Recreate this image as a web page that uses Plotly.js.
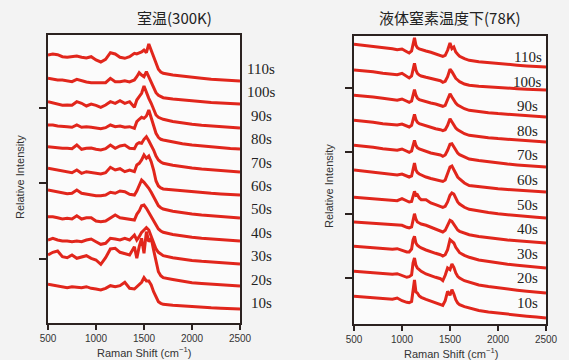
<!DOCTYPE html>
<html>
<head>
<meta charset="utf-8">
<script src="https://cdn.plot.ly/plotly-3.0.1.min.js"></script>
<style>html,body{margin:0;padding:0;background:#f3f3f3;}#chart{width:569px;height:360px;}</style>
</head>
<body>
<div id="chart"></div>
<script>
// Raman shift grids (cm^-1)
const xLeft = [500,550,600,650,700,750,800,850,900,950,1000,1050,1100,1150,1200,1250,1300,1350,1400,1425,1450,1475,1500,1525,1550,1575,1600,1625,1650,1675,1700,1800,1900,2000,2100,2200,2300,2400,2500];
const xRight = [500,600,700,800,900,950,1000,1050,1075,1100,1115,1130,1145,1160,1180,1200,1250,1300,1350,1400,1425,1450,1475,1500,1520,1540,1560,1580,1600,1650,1700,1800,1900,2000,2100,2200,2300,2400,2500];

const timeLabels = ['10s','20s','30s','40s','50s','60s','70s','80s','90s','100s','110s'];

// Room temperature (300K) spectra, relative intensity above each trace's own end level
const rt10s  = [24.7,24,23.3,22,21.3,22.3,21.7,21.3,22.3,20.7,20,19,20.7,23.3,22.3,23.3,26.7,20.7,20,22.3,24,26.7,31.3,28,28,24,17.3,11.3,7.3,5.7,4.7,3.8,3,2.3,1.7,1.2,0.8,0.4,0];
const rt20s  = [31,33.7,35,29.3,28.3,31,27.7,29.3,30.3,27.7,26,21.7,28.3,37,37.7,33.7,32.7,31,39.3,27.7,39.3,47.7,32.7,54.3,44.3,47.7,36,24.3,14.3,10.3,8.3,6.5,4.5,3.2,2.4,1.7,1.1,0.5,0];
const rt30s  = [24,25.7,24,23,23,22.3,23,22.3,24,25,22.3,19.7,20.7,25.7,25,24,25.7,24,29,24,27.3,31.7,34,36.3,34,27.3,20.7,15,11.7,9.7,8.3,6.3,4.8,3.6,2.7,1.9,1.2,0.6,0];
const rt40s  = [24.3,24.3,23.3,22,22.7,22,25.3,22,23.3,23.3,20,19.3,20,22.7,26,23.3,22.7,22,21,26.7,30,35.3,36,32.7,28.7,24.3,20,16,12,10,8.7,6.6,5,3.8,2.8,2,1.3,0.6,0];
const rt50s  = [28,27,26.3,24.7,24.3,24.7,28,24.7,23.7,23,22.3,22.3,23,25.7,24.7,27,26.3,23.7,23,27,33,38,35.7,33,29.7,25.7,21.3,16.3,12.3,10.3,9,6.8,5.2,4,3,2.1,1.3,0.6,0];
const rt60s  = [26.7,25.7,25,24.3,23.3,22.3,25,21.7,23.3,22.3,21.7,21,22.3,27.7,25,26.3,23.3,25,23.3,30,31.7,35,40,36.7,39,33.3,25,14,9,7,6,5,4,3.2,2.4,1.7,1.1,0.5,0];
const rt70s  = [25.3,24.7,24.7,23.7,23.7,23.3,27,22.7,23.7,24,22.7,22,23.3,27,23.7,26,27,23.7,23.3,28,29.3,28.7,32.7,35.3,31.3,27,22,16,12,10,8.7,6.7,5.1,3.9,2.9,2,1.3,0.6,0];
const rt80s  = [24,24,23,22.3,22.3,21.7,24,21.7,22.3,21.7,20.7,20.3,21.3,24,22.3,23,21.7,22.3,20.7,27.3,29.7,31.7,30.7,33,39,31.7,22.3,15.7,11.7,9.7,9,7,5.3,4,3,2.1,1.3,0.6,0];
const rt90s  = [26.3,25.3,24,22.7,23,22.7,26.3,24.7,22,24,22.7,20.7,23,26.3,24.7,27.3,24.7,26.3,20.7,28,31.3,34.7,42,34.7,29.7,24.7,18,13,10.7,9.3,8.7,6.5,5,3.8,2.8,2,1.3,0.6,0];
const rt100s = [25.7,24.7,24,24,23.3,22.3,24.7,23.3,22,21.3,21.3,20.7,21.3,25.7,22.3,22.3,23.3,22,24,27.3,31.3,29,27.3,32.3,27.3,21.3,15.7,11.3,8.7,7.3,6.3,5,4,3.1,2.3,1.6,1,0.5,0];
const rt110s = [26,27,26.3,24.3,23.7,24.3,25,23.7,23,24.3,21,19,21.7,28.3,27,23.7,22.7,24.3,27.7,27,27.7,29,31,28.3,37,30.3,25,17.7,11.7,9,7.7,6,4.7,3.3,2.7,1.7,1,0.7,0];
const rtOffsets = [14,37,59,82,105,128,151,174,195,219,242];

// Liquid nitrogen (78K) spectra
const ln10s  = [21.7,21,20,19.3,18.7,20,17.3,15.7,15.3,16.5,27,38,26,25,22,20.7,18.7,17,15.7,14.3,12.7,17.3,26.7,22.7,28.3,24,18.3,15,13.3,11.3,10,7.5,6,4.8,3.7,2.7,1.8,0.9,0];
const ln20s  = [21.7,21,20,19.3,18.7,19.3,17.7,15.7,16.3,18,30,35,27.7,25,23.3,21.7,19,17,15.7,14.3,12.3,17.7,25,23.3,29,25.7,20,16.7,15,12.3,10.7,8,6.4,5,3.8,2.8,1.8,0.9,0];
const ln30s  = [21.7,21,20,19.3,18.7,19.3,17.3,16,16,19,28,31.7,25,22.7,21.3,20,18,16,14.7,13.3,12,13.3,18.3,28.3,26.7,25,20.7,17.3,15.3,12.7,10.7,8,6.4,5,3.8,2.8,1.8,0.9,0];
const ln40s  = [21,20.3,19.3,18.7,18.3,17.7,17.7,15.7,15,16,24,29.3,23.7,21,20,19,17.7,16,14.3,12.3,11,12.7,17.7,22.7,21.7,18.3,15,13,11.7,9.7,8.3,6.5,5.2,4,3,2.2,1.4,0.7,0];
const ln50s  = [20.7,20,19.3,18,17.3,17.3,19.3,16.7,16,16.5,22.7,26.7,22.7,23.3,20,18.3,18.3,15,13.3,12,10.7,11.7,16,22.7,25,24,19.3,16,14,10.7,8.7,6.8,5.4,4.2,3.2,2.3,1.5,0.7,0];
const ln60s  = [22,21,20,18.5,17.5,17,18,15.5,15,16,22,29,22,19.5,18,17,15,13.5,12.5,11.5,10.5,12,18,25,26,22,18,15,13,9,6.5,5.2,4.2,3.3,2.5,1.8,1.1,0.5,0];
const ln70s  = [21.7,21,19.7,18.3,17.7,16.7,18,15.3,14.7,16,21.7,26.7,21.7,19.3,18,17.3,15.3,14,13,12,10.7,12,16.7,22.7,23.3,20,16.7,14,12.3,10,8,6.4,5.1,4,3,2.1,1.3,0.6,0];
const ln80s  = [21.7,21,19.7,18.3,17.7,17,18,15.7,15,16.7,22.3,27.7,22.3,19.7,18.3,17.7,15.7,14.3,13.3,12.3,11.3,12.3,16.7,23.3,20,16.7,14,12.3,11,8.3,6.7,5.3,4.3,3.4,2.6,1.8,1.1,0.5,0];
const ln90s  = [21.7,21,20,18.7,17.7,16.7,18,15.3,14.7,16,21.7,27.3,21.7,19,17.3,16.7,15.3,14,13,11.7,10.7,11.7,16.7,23.3,20,16.7,14,12,10.7,8.3,6.7,5.3,4.3,3.4,2.6,1.8,1.1,0.5,0];
const ln100s = [20,19.3,18.3,16.7,16,15.3,16.7,13.3,12,14,20,26.7,20,16.7,15,14,12.7,11.7,10.7,9.3,7.7,8.7,13.3,20.7,18.3,15,11.7,10,8.3,6,4.7,3.8,3,2.4,1.8,1.3,0.8,0.4,0];
const ln110s = [22.7,21.7,20.7,19.3,18.3,17.3,18,15.3,14,16,21.7,29.3,21.7,19.3,18,17.3,16,14.7,13.3,12,10.7,11.7,16.7,24,18.3,20,15,12.7,10.7,8.3,6.7,5.3,4.3,3.4,2.6,1.8,1.1,0.5,0];
const lnOffsets = [6,31,56,81,106,132,157,182,207,234,257];

const rtSeries = [rt10s,rt20s,rt30s,rt40s,rt50s,rt60s,rt70s,rt80s,rt90s,rt100s,rt110s];
const lnSeries = [ln10s,ln20s,ln30s,ln40s,ln50s,ln60s,ln70s,ln80s,ln90s,ln100s,ln110s];

const RED = '#e1261c';
const AX = '#2b2220';
const traces = [];
rtSeries.forEach((s, i) => {
  traces.push({x: xLeft, y: s.map(v => v + rtOffsets[i]), xaxis: 'x', yaxis: 'y',
    mode: 'lines', line: {color: RED, width: 3}, hoverinfo: 'skip', name: timeLabels[i]});
});
lnSeries.forEach((s, i) => {
  traces.push({x: xRight, y: s.map(v => v + lnOffsets[i]), xaxis: 'x2', yaxis: 'y2',
    mode: 'lines', line: {color: RED, width: 3}, hoverinfo: 'skip', name: timeLabels[i]});
});

const W = 569, H = 360;
const xAxisCommon = {
  range: [500, 2500], tickvals: [500, 1000, 1500, 2000, 2500], ticks: 'outside', ticklen: 5,
  tickwidth: 1.5, tickcolor: AX, showline: true, linecolor: AX, linewidth: 2, mirror: true,
  showgrid: false, zeroline: false,
  tickfont: {family: 'Liberation Sans, Arial, sans-serif', size: 10, color: '#333'}
};
const yAxisCommon = {
  range: [0, 288], ticks: 'outside', ticklen: 7, tickwidth: 2, tickcolor: AX,
  showticklabels: false, showline: true, linecolor: AX, linewidth: 2, mirror: true,
  showgrid: false, zeroline: false
};

const annotations = [];
const serif = {family: 'Liberation Serif, Times New Roman, serif', size: 15, color: '#222'};
timeLabels.forEach((t, i) => {
  annotations.push({text: t, xref: 'paper', yref: 'y', x: 261 / W, y: 20 + i * 23.4,
    xanchor: 'center', yanchor: 'middle', showarrow: false, font: serif});
  annotations.push({text: t, xref: 'x2', yref: 'y2', x: 2312, y: 21 + i * 24.6,
    xanchor: 'center', yanchor: 'middle', showarrow: false, font: serif});
});
const cjk = {family: 'Noto Sans CJK JP, sans-serif', size: 15, color: '#222'};
annotations.push({text: '室温(300K)', xref: 'paper', yref: 'paper', x: 174 / W, y: 1 - 17 / H,
  xanchor: 'center', yanchor: 'middle', showarrow: false, font: cjk});
annotations.push({text: '液体窒素温度下(78K)', xref: 'paper', yref: 'paper', x: 449 / W, y: 1 - 17 / H,
  xanchor: 'center', yanchor: 'middle', showarrow: false, font: cjk});
const sans = {family: 'Liberation Sans, Arial, sans-serif', size: 11, color: '#333'};
annotations.push({text: 'Relative Intensity', xref: 'paper', yref: 'paper', x: 20 / W, y: 1 - 177 / H,
  xanchor: 'center', yanchor: 'middle', textangle: -90, showarrow: false, font: sans});
annotations.push({text: 'Relative Intensity', xref: 'paper', yref: 'paper', x: 329 / W, y: 1 - 186 / H,
  xanchor: 'center', yanchor: 'middle', textangle: -90, showarrow: false, font: sans});
annotations.push({text: 'Raman Shift (cm<sup>−1</sup>)', xref: 'paper', yref: 'paper', x: 144 / W, y: 1 - 352 / H,
  xanchor: 'center', yanchor: 'middle', showarrow: false, font: sans});
annotations.push({text: 'Raman Shift (cm<sup>−1</sup>)', xref: 'paper', yref: 'paper', x: 451 / W, y: 1 - 353 / H,
  xanchor: 'center', yanchor: 'middle', showarrow: false, font: sans});

const layout = {
  width: W, height: H, margin: {l: 0, r: 0, t: 0, b: 0},
  paper_bgcolor: '#f3f3f3', plot_bgcolor: '#fbfbfb', showlegend: false,
  font: {family: 'Liberation Sans, Arial, sans-serif'},
  xaxis: Object.assign({}, xAxisCommon, {domain: [48 / W, 240 / W], anchor: 'y'}),
  yaxis: Object.assign({}, yAxisCommon, {domain: [37 / H, 325 / H], anchor: 'x', tickvals: [64, 140, 215]}),
  xaxis2: Object.assign({}, xAxisCommon, {domain: [354 / W, 546 / W], anchor: 'y2'}),
  yaxis2: Object.assign({}, yAxisCommon, {domain: [36 / H, 324 / H], anchor: 'x2', tickvals: [46, 110, 172, 236]}),
  annotations: annotations
};

Plotly.newPlot('chart', traces, layout, {staticPlot: true, displayModeBar: false});
</script>
</body>
</html>
